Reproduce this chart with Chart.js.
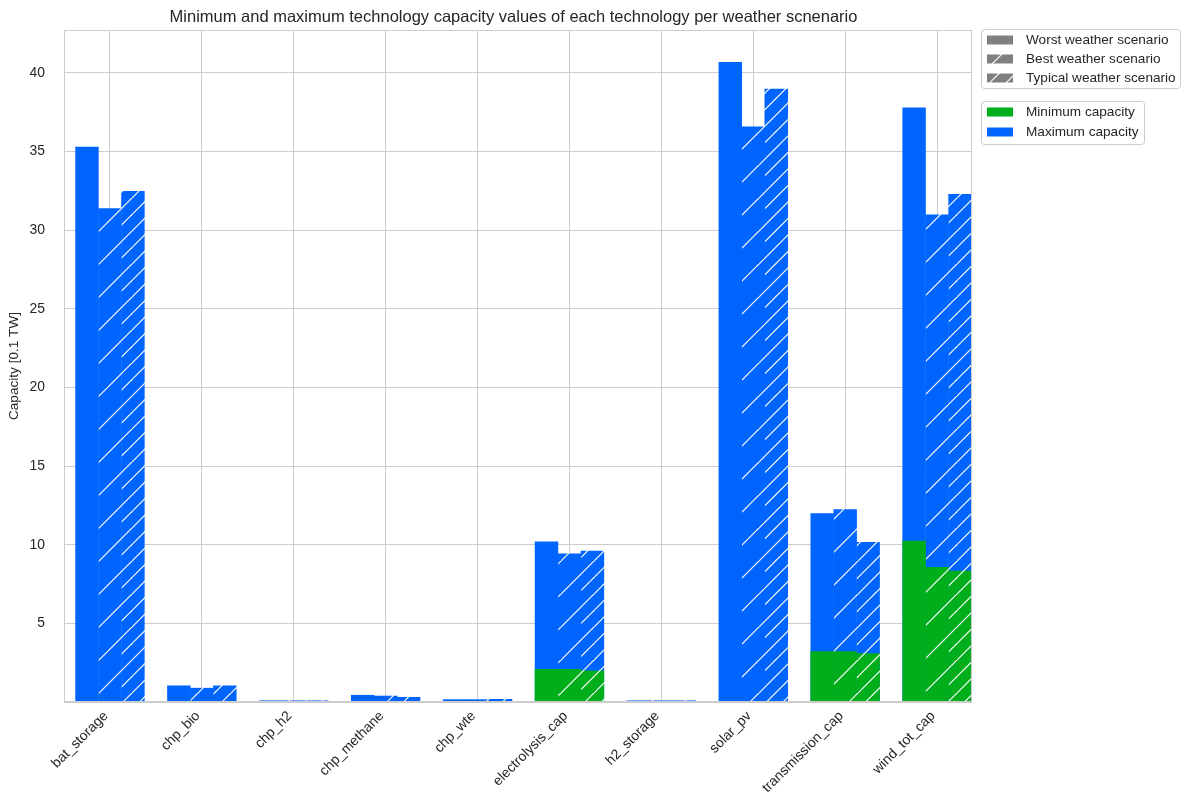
<!DOCTYPE html>
<html>
<head>
<meta charset="utf-8">
<script src="https://cdn.jsdelivr.net/npm/chart.js@4.4.1/dist/chart.umd.min.js"></script>
<style>
html, body { margin: 0; padding: 0; background: #fff; }
</style>
</head>
<body>
<canvas id="graph" width="1184" height="796"></canvas>
<script>
// technologies on the x axis
var techs = ['bat_storage', 'chp_bio', 'chp_h2', 'chp_methane', 'chp_wte',
	'electrolysis_cap', 'h2_storage', 'solar_pv', 'transmission_cap', 'wind_tot_cap'];

// capacity [0.1 TW] per weather scenario
var worstMax   = [35.3, 1.05, 0.1, 0.45, 0.17, 10.2, 0.1, 40.7, 12.0, 37.8];
var bestMax    = [31.4, 0.9, 0.1, 0.4, 0.17, 9.45, 0.1, 36.6, 12.25, 31.0];
var typicalMax = [32.5, 1.05, 0.1, 0.32, 0.19, 9.62, 0.1, 39.0, 10.17, 32.3];

var worstMin   = [0, 0, 0, 0, 0, 2.1, 0, 0, 3.22, 10.26];
var bestMin    = [0, 0, 0, 0, 0, 2.1, 0, 0, 3.22, 8.58];
var typicalMin = [0, 0, 0, 0, 0, 2.0, 0, 0, 3.1, 8.35];

var yTicks = [5, 10, 15, 20, 25, 30, 35, 40];

var scenarios = ['Worst weather scenario', 'Best weather scenario', 'Typical weather scenario'];
var capLabels = ['Minimum capacity', 'Maximum capacity'];

var GREEN = '#00ad1b';
var BLUE = '#0064ff';
var GREY = '#808080';
var TEXT = '#262626';
var FONT = '"Liberation Sans", Arial, sans-serif';

// white diagonal hatch on a colour, lines = 1 for "/", 2 for "//"
function hatch(color, lines) {
	var s = 33;
	var c = document.createElement('canvas');
	c.width = s; c.height = s;
	var g = c.getContext('2d');
	g.fillStyle = color;
	g.fillRect(0, 0, s, s);
	if (lines > 0) {
		g.strokeStyle = '#ffffff';
		g.lineWidth = 1.2;
		for (var k = 0; k < lines; k++) {
			var o = k * s / lines;
			[o, o + s].forEach(function(d) {
				g.beginPath();
				g.moveTo(-3, d + 3);
				g.lineTo(d + 3, -3);
				g.stroke();
			});
		}
	}
	return g.createPattern(c, 'repeat');
}

function points(values) {
	return values.map(function(v, i) { return { x: i, y: v }; });
}

var hatchCount = [0, 1, 2];
var stacks = ['worst', 'best', 'typical'];
var minData = [worstMin, bestMin, typicalMin];
var maxData = [worstMax, bestMax, typicalMax];

var datasets = [];
// minimum bars come first so they are painted over the maximum bars
for (var i = 0; i < 3; i++) {
	datasets.push({
		label: capLabels[0] + ' (' + scenarios[i] + ')',
		data: points(minData[i]),
		stack: stacks[i],
		backgroundColor: hatch(GREEN, hatchCount[i]),
		borderWidth: 0
	});
}
for (var j = 0; j < 3; j++) {
	datasets.push({
		label: capLabels[1] + ' (' + scenarios[j] + ')',
		data: points(maxData[j]),
		stack: stacks[j],
		backgroundColor: hatch(BLUE, hatchCount[j]),
		borderWidth: 0
	});
}

// title, frame and the two legend boxes
var decor = {
	id: 'decor',
	afterDatasetsDraw: function(chart) {
		var ctx = chart.ctx, a = chart.chartArea;
		ctx.save();
		ctx.strokeStyle = '#cccccc';
		ctx.lineWidth = 1;
		ctx.strokeRect(a.left + 0.5, a.top + 0.5, a.right - a.left - 1, a.bottom - a.top - 1);
		ctx.restore();
	},
	afterDraw: function(chart) {
		var ctx = chart.ctx;
		ctx.save();
		ctx.fillStyle = TEXT;
		ctx.font = '16.5px ' + FONT;
		ctx.textAlign = 'center';
		ctx.textBaseline = 'middle';
		ctx.fillText('Minimum and maximum technology capacity values of each technology per weather scnenario',
			513.5, 17);

		function box(x, y, w, h) {
			ctx.beginPath();
			ctx.roundRect(x + 0.5, y + 0.5, w, h, 3);
			ctx.fillStyle = 'rgba(255,255,255,0.85)';
			ctx.fill();
			ctx.strokeStyle = '#cccccc';
			ctx.lineWidth = 1;
			ctx.stroke();
		}
		function entry(fill, text, y) {
			ctx.fillStyle = fill;
			ctx.fillRect(987, y - 4.5, 26, 9);
			ctx.fillStyle = TEXT;
			ctx.font = '13.6px ' + FONT;
			ctx.textAlign = 'left';
			ctx.textBaseline = 'middle';
			ctx.fillText(text, 1026, y + 0.5);
		}
		box(981, 29, 199, 59);
		entry(hatch(GREY, 0), scenarios[0], 40);
		entry(hatch(GREY, 1), scenarios[1], 59);
		entry(hatch(GREY, 2), scenarios[2], 78);

		box(981, 101, 163, 43);
		entry(GREEN, capLabels[0], 112);
		entry(BLUE, capLabels[1], 132);
		ctx.restore();
	}
};

var ctx = document.getElementById('graph').getContext('2d');
var myChart = new Chart(ctx, {
	type: 'bar',
	data: {
		datasets: datasets
	},
	options: {
		responsive: false,
		animation: false,
		categoryPercentage: 0.75,
		barPercentage: 1.02,
		layout: { padding: { top: 30, right: 212, left: 0, bottom: 0 } },
		plugins: {
			legend: { display: false },
			tooltip: { enabled: false },
			title: { display: false }
		},
		scales: {
			x: {
				type: 'linear',
				min: -0.5,
				max: 9.38,
				offset: false,
				grid: { color: '#cccccc', drawTicks: false, offset: false },
				border: { display: false },
				afterBuildTicks: function(scale) {
					scale.ticks = techs.map(function(t, i) { return { value: i }; });
				},
				ticks: {
					autoSkip: false,
					minRotation: 45,
					maxRotation: 45,
					padding: 6,
					labelOffset: -4,
					color: TEXT,
					font: { family: FONT, size: 13.9 },
					callback: function(v) { return techs[v]; }
				},
				afterFit: function(scale) { scale.height = 94; }
			},
			y: {
				stacked: false,
				min: 0,
				max: 42.73,
				grid: { color: '#cccccc', drawTicks: false },
				border: { display: false },
				afterBuildTicks: function(scale) {
					scale.ticks = [{ value: 0 }].concat(yTicks.map(function(v) { return { value: v }; }));
				},
				ticks: {
					padding: 19,
					color: TEXT,
					font: { family: FONT, size: 13.9 },
					callback: function(v) { return v === 0 ? '' : v; }
				},
				title: {
					display: true,
					text: 'Capacity [0.1 TW]',
					color: TEXT,
					font: { family: FONT, size: 13.6 },
					padding: { top: 6, bottom: 0 }
				},
				afterFit: function(scale) { scale.width = 64; }
			}
		}
	},
	plugins: [decor]
});
</script>
</body>
</html>
